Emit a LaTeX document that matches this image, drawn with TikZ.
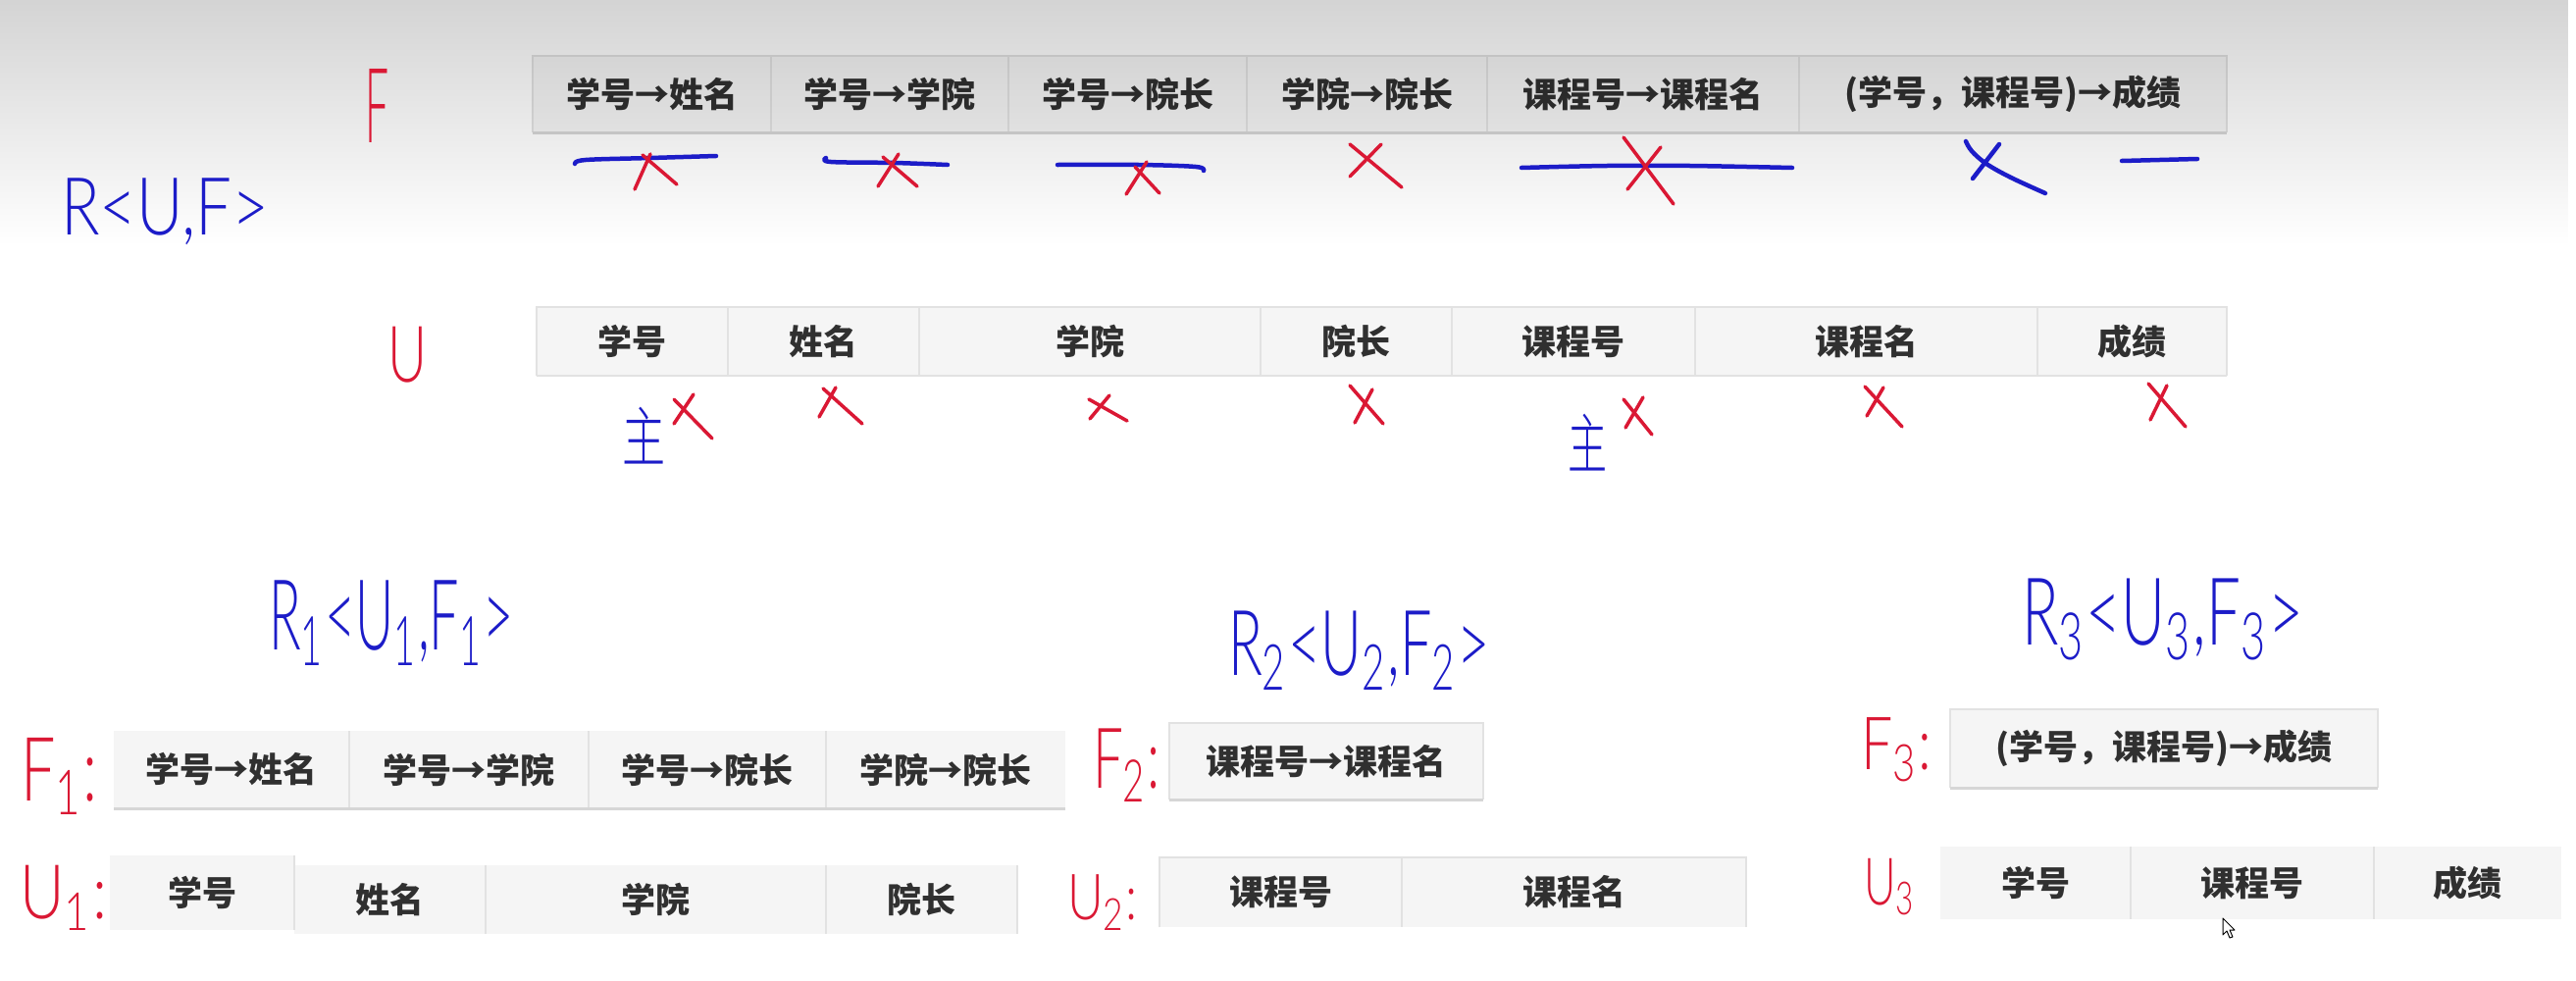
\documentclass[tikz,border=0pt]{standalone}
\usepackage{fontspec}
\usepackage{graphicx}
\newfontfamily\cjk{Noto Sans CJK SC}
\IfFontExistsTF{Lato Light}{\newfontfamily\hwfont{Lato Light}}{\newfontfamily\hwfont{Latin Modern Sans}}
\IfFontExistsTF{Noto Sans CJK SC Light}{\newfontfamily\hwcjk{Noto Sans CJK SC Light}}{\newfontfamily\hwcjk{Noto Sans CJK SC}}
\usetikzlibrary{fadings}
\definecolor{cellbg}{HTML}{F5F5F5}
\definecolor{sepc}{HTML}{E2E2E2}
\definecolor{botc}{HTML}{D6D6D6}
\definecolor{txtc}{HTML}{303030}
\definecolor{inkb}{RGB}{28,28,200}
\definecolor{inkr}{RGB}{218,24,52}
\tikzfading[name=topshade, top color=transparent!83, bottom color=transparent!100]
\newcommand{\mycell}[6]{\node[cell, minimum width={#4-#2}, minimum height={#5-#3}] (#1) at (#2,#3) {#6};}
\newcommand{\hwbox}[3]{\resizebox*{#1pt}{#2pt}{#3}}
\begin{document}
\begin{tikzpicture}[x=1pt,y=-1pt,
  cell/.style={fill=cellbg, inner sep=0pt, outer sep=0pt, anchor=north west, text=txtc, font=\cjk\bfseries\fontsize{35}{42}\selectfont},
  sepline/.style={draw=sepc, line width=2},
  outl/.style={draw=sepc, line width=1.5},
  botline/.style={draw=botc, line width=3},
  bink/.style={draw=inkb, line width=4.5, line cap=round, line join=round},
  rink/.style={draw=inkr, line width=3.5, line cap=round, line join=round},
  hwb/.style={text=inkb, inner sep=0pt, outer sep=0pt, anchor=north west, font=\hwfont},
  hwr/.style={text=inkr, inner sep=0pt, outer sep=0pt, anchor=north west, font=\hwfont}]
\fill[white] (0,0) rectangle (2626,999);
\useasboundingbox (0,0) rectangle (2626,999);

% ---------- F table (top)
\mycell{fa}{543}{57}{786}{135}{学号→姓名}
\mycell{fb}{786}{57}{1028}{135}{学号→学院}
\mycell{fc}{1028}{57}{1271}{135}{学号→院长}
\mycell{fd}{1271}{57}{1516}{135}{学院→院长}
\mycell{fe}{1516}{57}{1834}{135}{课程号→课程名}
\mycell{ff}{1834}{57}{2270}{135}{(学号，课程号)→成绩}
\foreach \n in {fa,fb,fc,fd,fe} \draw[sepline] (\n.north east) -- (\n.south east);
\draw[outl] (fa.south west) -- (fa.north west) -- (ff.north east) -- (ff.south east);
\draw[botline] (fa.south west) -- (ff.south east);

% ---------- U table (top)
\mycell{ua}{547}{313}{742}{383}{学号}
\mycell{ub}{742}{313}{937}{383}{姓名}
\mycell{uc}{937}{313}{1285}{383}{学院}
\mycell{ud}{1285}{313}{1480}{383}{院长}
\mycell{ue}{1480}{313}{1728}{383}{课程号}
\mycell{uf}{1728}{313}{2077}{383}{课程名}
\mycell{ug}{2077}{313}{2270}{383}{成绩}
\foreach \n in {ua,ub,uc,ud,ue,uf} \draw[sepline] (\n.north east) -- (\n.south east);
\draw[outl] (ua.south west) -- (ua.north west) -- (ug.north east) -- (ug.south east);
\draw[outl] (ua.south west) -- (ug.south east);

% ---------- F1
\mycell{pa}{116}{745}{356}{824}{学号→姓名}
\mycell{pb}{356}{745}{600}{824}{学号→学院}
\mycell{pc}{600}{745}{842}{824}{学号→院长}
\mycell{pd}{842}{745}{1086}{824}{学院→院长}
\foreach \n in {pa,pb,pc} \draw[sepline] (\n.north east) -- (\n.south east);
\draw[botline] (pa.south west) -- (pd.south east);

% ---------- U1
\mycell{qa}{112}{872}{300}{948}{学号}
\mycell{qb}{300}{882}{495}{952}{姓名}
\mycell{qc}{495}{882}{842}{952}{学院}
\mycell{qd}{842}{882}{1037}{952}{院长}
\foreach \n in {qa,qb,qc,qd} \draw[sepline] (\n.north east) -- (\n.south east);

% ---------- F2 / U2
\mycell{sa}{1192}{737}{1512}{815}{课程号→课程名}
\draw[outl] (sa.south west) -- (sa.north west) -- (sa.north east) -- (sa.south east);
\draw[botline] (sa.south west) -- (sa.south east);
\mycell{ta}{1182}{874}{1429}{945}{课程号}
\mycell{tb}{1429}{874}{1780}{945}{课程名}
\draw[sepline] (ta.north east) -- (ta.south east);
\draw[outl] (ta.south west) -- (ta.north west) -- (tb.north east) -- (tb.south east);

% ---------- F3 / U3
\mycell{va}{1988}{723}{2424}{803}{(学号，课程号)→成绩}
\draw[outl] (va.south west) -- (va.north west) -- (va.north east) -- (va.south east);
\draw[botline] (va.south west) -- (va.south east);
\mycell{wa}{1978}{863}{2172}{937}{学号}
\mycell{wb}{2172}{863}{2420}{937}{课程号}
\mycell{wc}{2420}{863}{2611}{937}{成绩}
\foreach \n in {wa,wb} \draw[sepline] (\n.north east) -- (\n.south east);

% ---------- grey overlay at the top
\fill[black, path fading=topshade] (0,0) rectangle (2626,250);

% ---------- handwritten labels
\node[hwr] (lF) at (372,70) {\hwbox{24}{75}{F}};
\node[hwb] (lR) at (62,182) {\hwbox{212}{68}{R<U,F>}};
\node[hwr] (lU) at (395,333) {\hwbox{40}{57}{U}};
\node[hwb] (zhu1) at (634,415) {\hwbox{44}{58}{\hwcjk 主}};
\node[hwb] (zhu2) at (1598,422) {\hwbox{40}{58}{\hwcjk 主}};
\node[hwb] (lR1) at (274,592) {\hwbox{250}{86}{R\textsubscript{1}<U\textsubscript{1},F\textsubscript{1}>}};
\node[hwr] (lF1) at (21,752) {\hwbox{79}{78}{F\textsubscript{1}:}};
\node[hwr] (lU1) at (20,882) {\hwbox{89}{66}{U\textsubscript{1}:}};
\node[hwb] (lR2) at (1252,623) {\hwbox{267}{80}{R\textsubscript{2}<U\textsubscript{2},F\textsubscript{2}>}};
\node[hwr] (lF2) at (1114,743) {\hwbox{69}{74}{F\textsubscript{2}:}};
\node[hwr] (lU2) at (1088,892) {\hwbox{72}{56}{U\textsubscript{2}:}};
\node[hwb] (lR3) at (2061,590) {\hwbox{287}{83}{R\textsubscript{3}<U\textsubscript{3},F\textsubscript{3}>}};
\node[hwr] (lF3) at (1897,732) {\hwbox{72}{65}{F\textsubscript{3}:}};
\node[hwr] (lU3) at (1900,875) {\hwbox{53}{58}{U\textsubscript{3}}};

% ---------- strike-out lines under F
\draw[bink] plot[smooth, tension=0.6] coordinates {(586,167) (597,163) (663,161) (730,159)};
\draw[bink] plot[smooth, tension=0.6] coordinates {(842,161) (847,165) (912,166) (966,168)};
\draw[bink] plot[smooth, tension=0.6] coordinates {(1078,168) (1161,168) (1219,170) (1227,174)};
\draw[bink] plot[smooth, tension=0.6] coordinates {(1551,171) (1638,169) (1723,169) (1827,171)};
\draw[bink] plot[smooth, tension=0.6] coordinates {(2004,144) (2010,154) (2025,167) (2050,181) (2085,197)};
\draw[bink] (2038,147) -- (2011,182);
\draw[bink] (2163,164) -- (2240,162);

% ---------- red crosses under F
\draw[rink] (647,193) -- (663,157);  \draw[rink] (655,158) -- (690,188);
\draw[rink] (895,190) -- (916,157);  \draw[rink] (900,160) -- (935,190);
\draw[rink] (1148,198) -- (1169,165); \draw[rink] (1157,170) -- (1182,197);
\draw[rink] (1376,147) -- (1429,191); \draw[rink] (1376,180) -- (1408,147);
\draw[rink] (1655,140) -- (1706,208); \draw[rink] (1693,150) -- (1659,193);

% ---------- red crosses under U
\draw[rink] (687,432) -- (707,402); \draw[rink] (687,407) -- (726,447);
\draw[rink] (835,425) -- (852,395); \draw[rink] (839,396) -- (879,432);
\draw[rink] (1111,427) -- (1131,403); \draw[rink] (1110,407) -- (1149,429);
\draw[rink] (1376,393) -- (1410,432); \draw[rink] (1381,431) -- (1399,397);
\draw[rink] (1655,407) -- (1684,443); \draw[rink] (1657,436) -- (1675,405);
\draw[rink] (1901,394) -- (1939,435); \draw[rink] (1903,424) -- (1920,395);
\draw[rink] (2190,391) -- (2228,435); \draw[rink] (2192,428) -- (2209,393);

% ---------- mouse pointer
\draw[fill=white, draw=black, line width=1, line join=round]
  (2266,936) -- (2266,953) -- (2270,949) -- (2273,956) -- (2276,955) -- (2273,948) -- (2278,948) -- cycle;
\end{tikzpicture}
\end{document}
